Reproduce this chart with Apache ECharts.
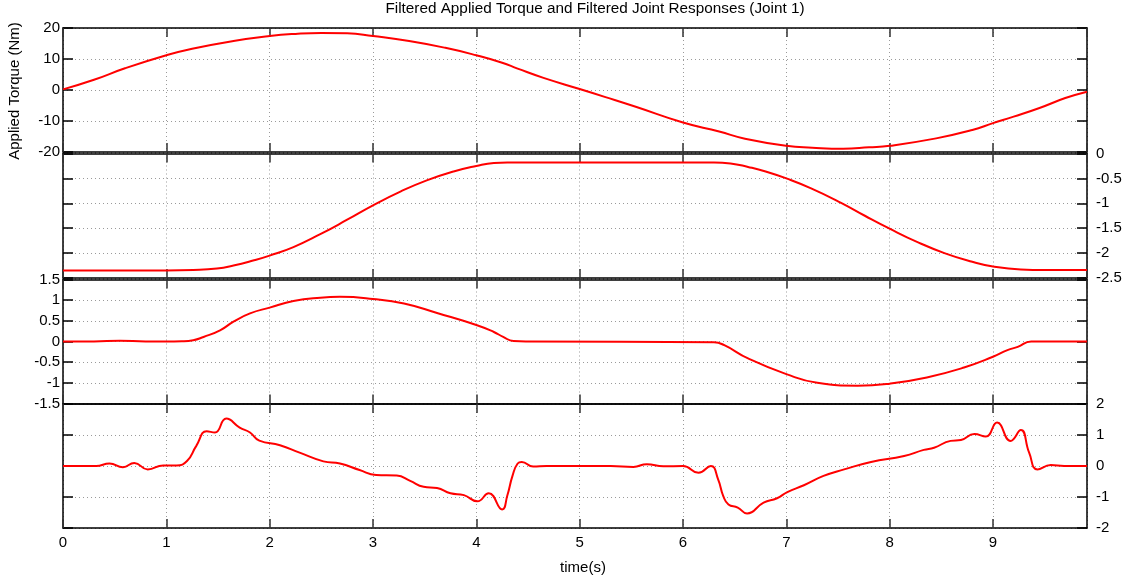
<!DOCTYPE html>
<html>
<head>
<meta charset="utf-8">
<script src="https://cdn.jsdelivr.net/npm/echarts@6/dist/echarts.min.js"></script>
<style>
  html, body { margin: 0; padding: 0; background: #fff; }
  #chart { width: 1138px; height: 586px; }
</style>
</head>
<body>
<div id="chart"></div>
<script>
// Filtered joint 1 signals sampled over time (s)
const torqueTime = [0, 0.3, 0.6, 1.0, 1.25, 1.65, 2.0, 2.25, 2.5, 2.75, 3.0, 3.35, 3.7, 4.0, 4.25, 4.4, 4.65, 5.0, 5.25, 5.55, 6.0, 6.35, 6.6, 7.0, 7.25, 7.55, 7.8, 8.0, 8.45, 8.8, 9.0, 9.2, 9.45, 9.7, 9.91];
const torqueValues = [0.2, 3.3, 7.0, 11.2, 13.3, 15.8, 17.4, 18.1, 18.4, 18.3, 17.4, 15.8, 13.6, 11.2, 8.8, 6.9, 3.9, 0.3, -2.3, -5.5, -10.5, -13.4, -15.7, -18.0, -18.6, -18.95, -18.5, -18.0, -15.6, -12.9, -10.7, -8.6, -5.8, -2.6, -0.55];

const positionTime = [0, 1.0, 1.26, 1.49, 1.65, 1.84, 2.0, 2.23, 2.49, 2.75, 3.0, 3.27, 3.52, 3.78, 4.0, 4.17, 4.3, 6.3, 6.46, 6.63, 6.8, 7.0, 7.24, 7.53, 7.76, 8.0, 8.27, 8.53, 8.79, 9.0, 9.27, 9.5, 9.91];
const positionValues = [-2.35, -2.35, -2.34, -2.31, -2.25, -2.15, -2.05, -1.88, -1.62, -1.33, -1.04, -0.76, -0.54, -0.36, -0.25, -0.19, -0.18, -0.18, -0.2, -0.27, -0.36, -0.5, -0.7, -0.99, -1.25, -1.51, -1.78, -2.0, -2.17, -2.27, -2.33, -2.34, -2.34];

const velocityTime = [0, 0.3, 0.55, 0.8, 1.0, 1.15, 1.26, 1.36, 1.52, 1.65, 1.81, 2.0, 2.23, 2.49, 2.68, 3.0, 3.3, 3.62, 4.0, 4.17, 4.26, 4.36, 4.5, 6.3, 6.4, 6.63, 7.0, 7.3, 7.69, 8.0, 8.36, 8.72, 9.0, 9.14, 9.24, 9.37, 9.91];
const velocityValues = [0, 0, 0.02, 0, 0, 0.005, 0.03, 0.11, 0.27, 0.48, 0.68, 0.82, 0.98, 1.06, 1.08, 1.03, 0.92, 0.69, 0.4, 0.23, 0.11, 0.01, 0, -0.02, -0.09, -0.41, -0.79, -1.0, -1.07, -1.02, -0.87, -0.63, -0.37, -0.21, -0.13, 0, 0];

const accelTime = [0, 0.32, 0.45, 0.58, 0.69, 0.82, 0.97, 1.1, 1.2, 1.29, 1.39, 1.47, 1.58, 1.71, 1.81, 1.9, 2.1, 2.29, 2.52, 2.68, 2.87, 3.03, 3.23, 3.36, 3.49, 3.62, 3.75, 3.88, 4.01, 4.12, 4.25, 4.3, 4.35, 4.4, 4.44, 4.55, 4.68, 5.3, 5.52, 5.65, 5.81, 6.0, 6.15, 6.27, 6.34, 6.39, 6.44, 6.53, 6.62, 6.78, 6.91, 7.01, 7.17, 7.36, 7.56, 7.82, 8.14, 8.33, 8.43, 8.59, 8.69, 8.82, 8.93, 9.04, 9.17, 9.27, 9.35, 9.43, 9.56, 9.69, 9.91];
const accelValues = [0, 0, 0.08, -0.04, 0.1, -0.11, 0.02, 0.02, 0.16, 0.65, 1.12, 1.08, 1.53, 1.24, 1.08, 0.82, 0.67, 0.43, 0.15, 0.08, -0.13, -0.29, -0.31, -0.48, -0.67, -0.71, -0.88, -0.94, -1.14, -0.88, -1.4, -0.95, -0.32, 0.08, 0.13, -0.02, 0, 0, -0.03, 0.06, -0.01, 0, -0.22, 0, -0.43, -0.97, -1.24, -1.34, -1.53, -1.18, -1.04, -0.84, -0.62, -0.32, -0.11, 0.13, 0.32, 0.52, 0.59, 0.81, 0.84, 1.03, 0.95, 1.4, 0.81, 1.16, 0.43, -0.11, 0.03, 0, 0];

const timeMax = 9.91;
// y-axis ranges for the four stacked panels: [min, max, interval, label side]
const panelRanges = [
  [-20, 20, 10, 'left'],
  [-2.5, 0, 0.5, 'right'],
  [-1.5, 1.5, 0.5, 'left'],
  [-2, 2, 1, 'right']
];

const zip = (t, v) => t.map((x, i) => [x, v[i]]);
const seriesData = [
  zip(torqueTime, torqueValues),
  zip(positionTime, positionValues),
  zip(velocityTime, velocityValues),
  zip(accelTime, accelValues)
];

const FONT = "'Liberation Sans', Arial, Helvetica, sans-serif";
const gridBoxes = [
  { top: 28, height: 124 },
  { top: 153.5, height: 124.5 },
  { top: 279.5, height: 124 },
  { top: 404, height: 124 }
];

const grids = gridBoxes.map(b => ({ left: 63, right: 51, top: b.top, height: b.height, containLabel: false }));

const borderLine = { show: true, onZero: false, lineStyle: { color: '#000', width: 1.5 } };
const dotted = { show: true, lineStyle: { color: '#9a9a9a', width: 1, type: [1, 3] } };
const tickStyle = { show: true, inside: true, length: 9, lineStyle: { color: '#333', width: 1.5 } };

const xAxes = [];
const yAxes = [];
gridBoxes.forEach((b, i) => {
  const isLast = i === gridBoxes.length - 1;
  xAxes.push({
    type: 'value', gridIndex: i, position: 'bottom', min: 0, max: timeMax, interval: 1,
    axisLine: borderLine, axisTick: tickStyle, splitLine: dotted,
    axisLabel: {
      show: isLast, showMaxLabel: false, margin: 7,
      color: '#000', fontSize: 15, fontFamily: FONT
    }
  });
  xAxes.push({
    type: 'value', gridIndex: i, position: 'top', min: 0, max: timeMax, interval: 1,
    axisLine: borderLine, axisTick: tickStyle, splitLine: { show: false },
    axisLabel: { show: false }
  });
  const [mn, mx, iv, side] = panelRanges[i];
  ['left', 'right'].forEach(pos => {
    yAxes.push({
      type: 'value', gridIndex: i, position: pos, min: mn, max: mx, interval: iv,
      axisLine: borderLine,
      axisTick: { show: true, inside: true, length: 10, lineStyle: { color: '#000', width: 1.5 } },
      splitLine: pos === 'left' ? dotted : { show: false },
      axisLabel: {
        show: pos === side, margin: pos === 'left' ? 3 : 9,
        color: '#000', fontSize: 15, fontFamily: FONT
      }
    });
  });
});

const series = seriesData.map((d, i) => ({
  type: 'line',
  xAxisIndex: i * 2,
  yAxisIndex: i * 2,
  data: d,
  showSymbol: false,
  smooth: 0.5,
  lineStyle: { color: '#ff0000', width: 2 },
  z: 5
}));

const chart = echarts.init(document.getElementById('chart'), null, { renderer: 'canvas' });
chart.setOption({
  animation: false,
  backgroundColor: '#fff',
  grid: grids,
  xAxis: xAxes,
  yAxis: yAxes,
  series: series,
  graphic: [
    {
      type: 'text',
      x: 595, y: 9,
      style: {
        text: 'Filtered Applied Torque and Filtered Joint Responses (Joint 1)',
        align: 'center', verticalAlign: 'middle',
        fill: '#000', fontSize: 15.3, fontFamily: FONT
      }
    },
    {
      type: 'text',
      x: 15, y: 91, rotation: Math.PI / 2,
      style: {
        text: 'Applied Torque (Nm)', align: 'center', verticalAlign: 'middle',
        fill: '#000', fontSize: 15, fontFamily: FONT
      }
    },
    {
      type: 'text',
      x: 583, y: 568,
      style: {
        text: 'time(s)', align: 'center', verticalAlign: 'middle',
        fill: '#000', fontSize: 15, fontFamily: FONT
      }
    }
  ]
});
</script>
</body>
</html>
